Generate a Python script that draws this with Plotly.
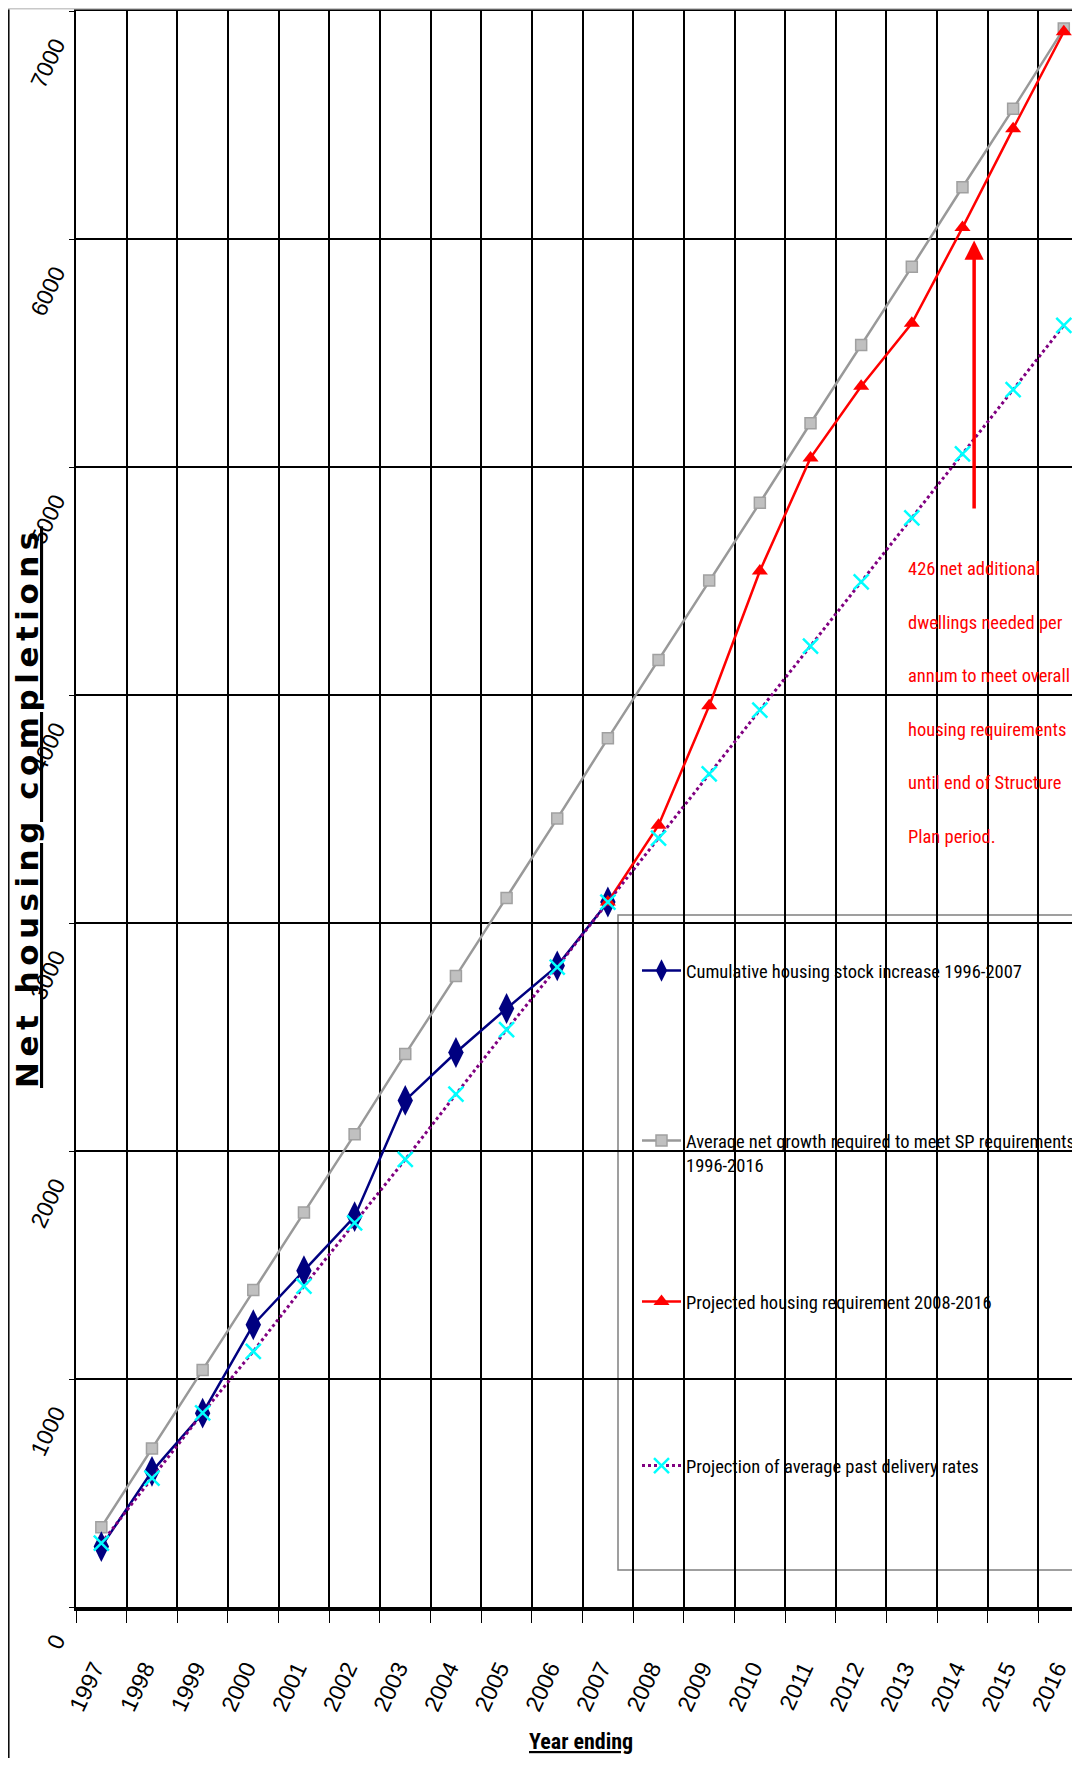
import plotly.graph_objects as go

# ---------------- data ----------------
years = ["1997", "1998", "1999", "2000", "2001", "2002", "2003", "2004", "2005", "2006",
         "2007", "2008", "2009", "2010", "2011", "2012", "2013", "2014", "2015", "2016"]

cumulative_years = years[:11]
cumulative_stock = [265, 595, 850, 1238, 1475, 1712, 2222, 2432, 2625, 2812, 3092]

average_required = [350, 695, 1040, 1390, 1730, 2073, 2425, 2767, 3110, 3458,
                    3810, 4153, 4502, 4843, 5192, 5535, 5878, 6227, 6571, 6923]

projected_years = years[10:]
projected_requirement = [3092, 3429, 3953, 4544, 5040, 5354, 5630, 6050, 6484, 6909]

past_delivery_projection = [280, 565, 851, 1121, 1407, 1685, 1963, 2249, 2532, 2806,
                            3092, 3372, 3654, 3934, 4214, 4496, 4777, 5058, 5339, 5621]

y_ticks = [0, 1000, 2000, 3000, 4000, 5000, 6000, 7000]

legend_names = [
    "Cumulative housing stock increase 1996-2007",
    "Average net growth required to meet SP requirements<br>1996-2016",
    "Projected housing requirement 2008-2016",
    "Projection of average past delivery rates",
]

note_lines = ["426 net additional", "dwellings needed per", "annum to meet overall",
              "housing requirements", "until end of Structure", "Plan period."]

# ---------------- geometry ----------------
# The page body has an 8px margin, so the figure is sized to stay inside the
# window; positions below are given in page pixels.
PAGE_OFF = 8
W, H = 1080 - PAGE_OFF, 1750
PLOT_L, PLOT_R, PLOT_T, PLOT_B = 76, 1080, 11, 1607          # page pixels
ML, MR = PLOT_L - PAGE_OFF, 0
MT = PLOT_T - PAGE_OFF
MB = H - (PLOT_B - PAGE_OFF)
PW, PH = PLOT_R - PLOT_L, PLOT_B - PLOT_T


def px_x(x):
    return (x - PLOT_L) / PW


def px_y(y):
    return (PLOT_B - y) / PH


NARROW = "Roboto Condensed, Liberation Sans Narrow, sans-serif"
TICKF = "Liberation Sans, Arial, sans-serif"

fig = go.Figure()

# grey: average required
fig.add_trace(go.Scatter(
    x=years, y=average_required, name=legend_names[1], legend="legend2",
    mode="lines+markers",
    line=dict(color="#999999", width=2.5),
    marker=dict(symbol="square", size=11, color="#C0C0C0",
                line=dict(color="#A0A0A0", width=1.5)),
))
# navy: cumulative stock
fig.add_trace(go.Scatter(
    x=cumulative_years, y=cumulative_stock, name=legend_names[0], legend="legend",
    mode="lines+markers",
    line=dict(color="#000080", width=2.5),
    marker=dict(symbol="diamond-tall", size=22, color="#000080"),
))
# red: projected requirement
fig.add_trace(go.Scatter(
    x=projected_years, y=projected_requirement, name=legend_names[2], legend="legend3",
    mode="lines+markers",
    line=dict(color="#FF0000", width=2.5),
    marker=dict(symbol="triangle-up", size=14, color="#FF0000"),
))
# purple dotted with cyan crosses
fig.add_trace(go.Scatter(
    x=years, y=past_delivery_projection, name=legend_names[3], legend="legend4",
    mode="lines+markers",
    line=dict(color="#800080", width=3, dash="dot"),
    marker=dict(symbol="x-thin", size=15, color="#00FFFF",
                line=dict(color="#00FFFF", width=2.5)),
))

legend_common = dict(
    x=px_x(637), xanchor="left", yanchor="middle",
    bgcolor="rgba(0,0,0,0)", borderwidth=0, itemwidth=39,
    font=dict(family=NARROW, size=18.5, color="black"),
)

fig.update_layout(
    width=W, height=H,
    margin=dict(l=ML, r=MR, t=MT, b=MB, pad=0, autoexpand=False),
    paper_bgcolor="white", plot_bgcolor="white",
    showlegend=True,
    legend=dict(legend_common, y=px_y(971)),
    legend2=dict(legend_common, y=px_y(1153), valign="top"),
    legend3=dict(legend_common, y=px_y(1302)),
    legend4=dict(legend_common, y=px_y(1466)),
    xaxis=dict(
        type="category", range=[-0.5, 19.32], tickson="boundaries",
        automargin=False,
        showgrid=True, gridcolor="black", gridwidth=1.5,
        showline=True, linecolor="black", linewidth=4, mirror=True,
        ticks="outside", ticklen=12, tickcolor="black", tickwidth=1,
        tickangle=-65, ticklabelstandoff=35, ticklabelshift=-7,
        tickfont=dict(family=TICKF, size=23, color="black"),
        zeroline=False,
    ),
    yaxis=dict(
        range=[0, 7000], tickvals=y_ticks, ticktext=[str(v) for v in y_ticks],
        automargin=False, ticklabeloverflow="allow",
        showgrid=True, gridcolor="black", gridwidth=1.5,
        showline=True, linecolor="black", linewidth=2,
        ticks="outside", ticklen=5, tickcolor="black", tickwidth=1,
        tickangle=-65, ticklabelshift=31, ticklabelstandoff=9,
        tickfont=dict(family=TICKF, size=23, color="black"),
        zeroline=False,
    ),
)

# legend frame
fig.add_shape(type="rect", xref="paper", yref="paper",
              x0=px_x(618), x1=1.05, y0=px_y(1570), y1=px_y(915),
              fillcolor="white", line=dict(color="#808080", width=1.5), layer="between")

# outer chart border pieces
fig.add_shape(type="line", xref="paper", yref="paper",
              x0=px_x(PAGE_OFF + 0.8), x1=px_x(PAGE_OFF + 0.8), y0=px_y(1780), y1=px_y(0),
              line=dict(color="black", width=1.5))
fig.add_shape(type="line", xref="paper", yref="paper",
              x0=px_x(PAGE_OFF), x1=1.05, y0=px_y(PAGE_OFF + 0.8), y1=px_y(PAGE_OFF + 0.8),
              line=dict(color="#C8C8C8", width=1.5))

# arrow
fig.add_annotation(x=17.23, y=5993, ax=17.23, ay=4811, xref="x", yref="y",
                   axref="x", ayref="y", text="", showarrow=True,
                   arrowhead=2, arrowsize=1.1, arrowwidth=3.5, arrowcolor="#FF0000", standoff=0)

# note text
note_y = [569, 623, 676, 730, 783, 837]
for line, yy in zip(note_lines, note_y):
    fig.add_annotation(x=px_x(906), y=px_y(yy), xref="paper", yref="paper",
                       xanchor="left", yanchor="middle", showarrow=False, text=line,
                       font=dict(family=NARROW, size=18.5, color="#FF0000"))

# axis titles
fig.add_annotation(x=px_x(27), y=px_y(807), xref="paper", yref="paper",
                   xanchor="center", yanchor="middle", showarrow=False, textangle=-90,
                   text="<span style='letter-spacing:5.5px'>Net housing completions</span>",
                   font=dict(family="DejaVu Sans, sans-serif", size=31, color="black",
                             weight="bold", lineposition="under"))
fig.add_annotation(x=px_x(581), y=px_y(1742), xref="paper", yref="paper",
                   xanchor="center", yanchor="middle", showarrow=False,
                   text="Year ending",
                   font=dict(family=NARROW, size=22, color="black",
                             weight="bold", lineposition="under"))

fig.write_html("out.html")
